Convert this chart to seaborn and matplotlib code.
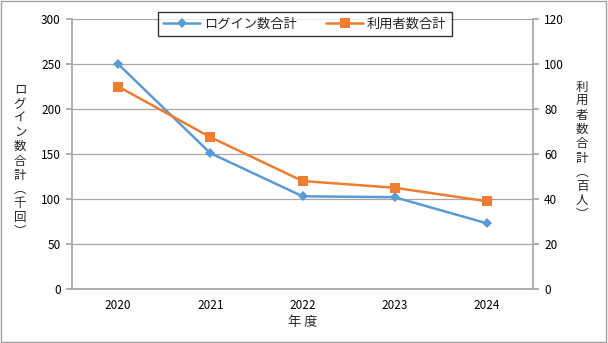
import matplotlib
matplotlib.use("Agg")
import matplotlib.pyplot as plt
import seaborn as sns
import pandas as pd
import numpy as np
from matplotlib.lines import Line2D

years = ["2020", "2021", "2022", "2023", "2024"]
logins = [250, 151, 103, 102, 73]
users = [90, 67.5, 48, 45, 39]
left_ticks = [0, 50, 100, 150, 200, 250, 300]
right_ticks = [0, 20, 40, 60, 80, 100, 120]

sns.set_theme(style="white")
plt.rcParams['font.family'] = ['Noto Sans CJK JP', 'DejaVu Sans']

df = pd.DataFrame({"year": years, "login": logins, "users": users})
df["x"] = np.arange(len(years))

fig = plt.figure(figsize=(6.08, 3.43), dpi=100)
ax = fig.add_axes([72/608, 1-289/343, (533-72)/608, (289-19)/343])
ax2 = ax.twinx()

blue = "#5B9BD5"
orange = "#ED7D31"
grid = "#A6A6A6"

sns.lineplot(data=df, x="x", y="login", ax=ax, color=blue, marker="D", markersize=5.5,
             markeredgewidth=0, linewidth=1.8, zorder=3)
sns.lineplot(data=df, x="x", y="users", ax=ax2, color=orange, marker="s", markersize=6.5,
             markeredgewidth=0, linewidth=1.8, zorder=3)

ax.set_xlim(-0.5, 4.5)
ax.set_ylim(0, 300)
ax2.set_ylim(0, 120)
ax.set_yticks(left_ticks)
ax2.set_yticks(right_ticks)
ax.set_xticks(range(len(years)))
ax.set_xticklabels(years)
ax.set_xticks(np.arange(-0.5, 5, 1), minor=True)
ax.tick_params(axis="x", which="major", length=0, labelsize=8.5, pad=7, colors="black")
ax.tick_params(axis="x", which="minor", length=4, color=grid, direction="out")
ax.tick_params(axis="y", length=4, labelsize=8.5, pad=4, colors="black")
ax.tick_params(axis="y", color=grid)
ax2.tick_params(axis="y", length=4, labelsize=8.5, pad=4, colors="black")
ax2.tick_params(axis="y", color=grid)
for a in (ax, ax2):
    a.set_xlabel("")
    a.set_ylabel("")
    for s in a.spines.values():
        s.set_visible(False)
ax.spines["left"].set_visible(True)
ax.spines["left"].set_color(grid)
ax.spines["bottom"].set_visible(True)
ax.spines["bottom"].set_color(grid)
ax2.spines["right"].set_visible(True)
ax2.spines["right"].set_color(grid)
ax.yaxis.grid(True, color=grid, linewidth=0.9)
ax.set_axisbelow(True)

ax.set_xlabel("年 度", fontsize=9.5, labelpad=3)

fig.text(20/608, 1-161/343, "\n".join(list("ログイン数合計") + ["︵", "千", "回", "︶"]),
         ha="center", va="center", fontsize=9, linespacing=1.12)
fig.text(582/608, 1-151/343, "\n".join(list("利用者数合計") + ["︵", "百", "人", "︶"]),
         ha="center", va="center", fontsize=9, linespacing=1.12)

handles = [Line2D([], [], color=blue, marker="D", markersize=5.5, markeredgewidth=0, linewidth=1.8),
           Line2D([], [], color=orange, marker="s", markersize=6.5, markeredgewidth=0, linewidth=1.8)]
leg = fig.legend(handles, ["ログイン数合計", "利用者数合計"], loc="center",
                 bbox_to_anchor=(305/608, 1-24/343), ncol=2, frameon=True, fancybox=False,
                 fontsize=9.5, handlelength=2.8, columnspacing=2.2, borderpad=0.45,
                 handletextpad=0.3, borderaxespad=0)
leg.get_frame().set_edgecolor("black")
leg.get_frame().set_linewidth(1)

fig.patches.append(plt.Rectangle((0.002, 0.003), 0.995, 0.994, transform=fig.transFigure,
                                 fill=False, edgecolor="#A0A0A0", linewidth=1))

fig.savefig("out.png", dpi=100)
